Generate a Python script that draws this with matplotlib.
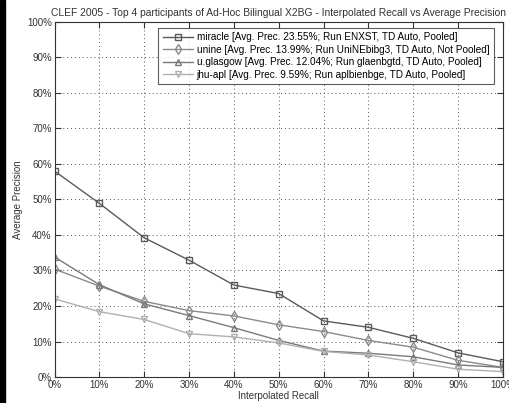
import matplotlib
matplotlib.use("Agg")
import matplotlib.pyplot as plt
from matplotlib.patches import Rectangle
from matplotlib.ticker import FuncFormatter

plt.rcParams['font.family'] = ['Liberation Sans', 'DejaVu Sans']

recall = [0, 10, 20, 30, 40, 50, 60, 70, 80, 90, 100]

miracle = [58.0, 48.9, 39.2, 32.9, 25.9, 23.5, 15.8, 14.0, 10.9, 6.8, 4.3]
unine = [30.4, 25.6, 21.3, 18.7, 17.2, 14.7, 12.8, 10.3, 8.4, 4.7, 2.7]
glasgow = [33.8, 26.0, 20.6, 17.3, 13.9, 10.3, 7.3, 6.7, 5.7, 3.4, 2.7]
jhuapl = [22.0, 18.4, 16.2, 12.2, 11.3, 9.6, 7.2, 6.2, 4.3, 2.2, 1.5]

labels = [
    "miracle [Avg. Prec. 23.55%; Run ENXST, TD Auto, Pooled]",
    "unine [Avg. Prec. 13.99%; Run UniNEbibg3, TD Auto, Not Pooled]",
    "u.glasgow [Avg. Prec. 12.04%; Run glaenbgtd, TD Auto, Pooled]",
    "jhu-apl [Avg. Prec. 9.59%; Run aplbienbge, TD Auto, Pooled]",
]
series = [miracle, unine, glasgow, jhuapl]
markers = ['s', 'd', '^', 'v']
colors = ['#5a5a5a', '#8a8a8a', '#7a7a7a', '#b0b0b0']

fig = plt.figure(figsize=(5.10, 4.03), dpi=100)
ax = fig.add_axes([0.107, 0.0645, 0.879, 0.881])

for ys, lab, m, c in zip(series, labels, markers, colors):
    ax.plot(recall, ys, color=c, marker=m, markersize=5, markerfacecolor='none',
            markeredgecolor=c, linewidth=1.0, label=lab)

ax.set_xlim(0, 100)
ax.set_ylim(0, 100)
ax.set_xticks(recall)
ax.set_yticks(range(0, 101, 10))
pct = FuncFormatter(lambda v, p: f"{int(v)}%")
ax.xaxis.set_major_formatter(pct)
ax.yaxis.set_major_formatter(pct)
ax.tick_params(direction='in', top=True, right=True, labelsize=7, length=4,
               colors='#333333', pad=2)
ax.grid(True, linestyle=(0, (1, 3)), color='#555555', linewidth=0.7)
for s in ax.spines.values():
    s.set_color('#333333')

ax.set_title("CLEF 2005 - Top 4 participants of Ad-Hoc Bilingual X2BG - Interpolated Recall vs Average Precision",
             fontsize=7.4, color='#333333', pad=4)
ax.set_xlabel("Interpolated Recall", fontsize=7, color='#333333', labelpad=1)
ax.set_ylabel("Average Precision", fontsize=7, color='#333333', labelpad=3)

leg = ax.legend(loc='upper right', bbox_to_anchor=(0.980, 0.983), fontsize=7.2,
                frameon=True, fancybox=False, edgecolor='#333333',
                borderpad=0.45, labelspacing=0.25, handlelength=3,
                handletextpad=0.4, borderaxespad=0)
leg.get_frame().set_linewidth(0.8)

# dark border strip on the left edge
fig.patches.append(Rectangle((0, 0), 5 / 510, 1, transform=fig.transFigure,
                             color='black', zorder=10))

fig.savefig("out.png", dpi=100)
